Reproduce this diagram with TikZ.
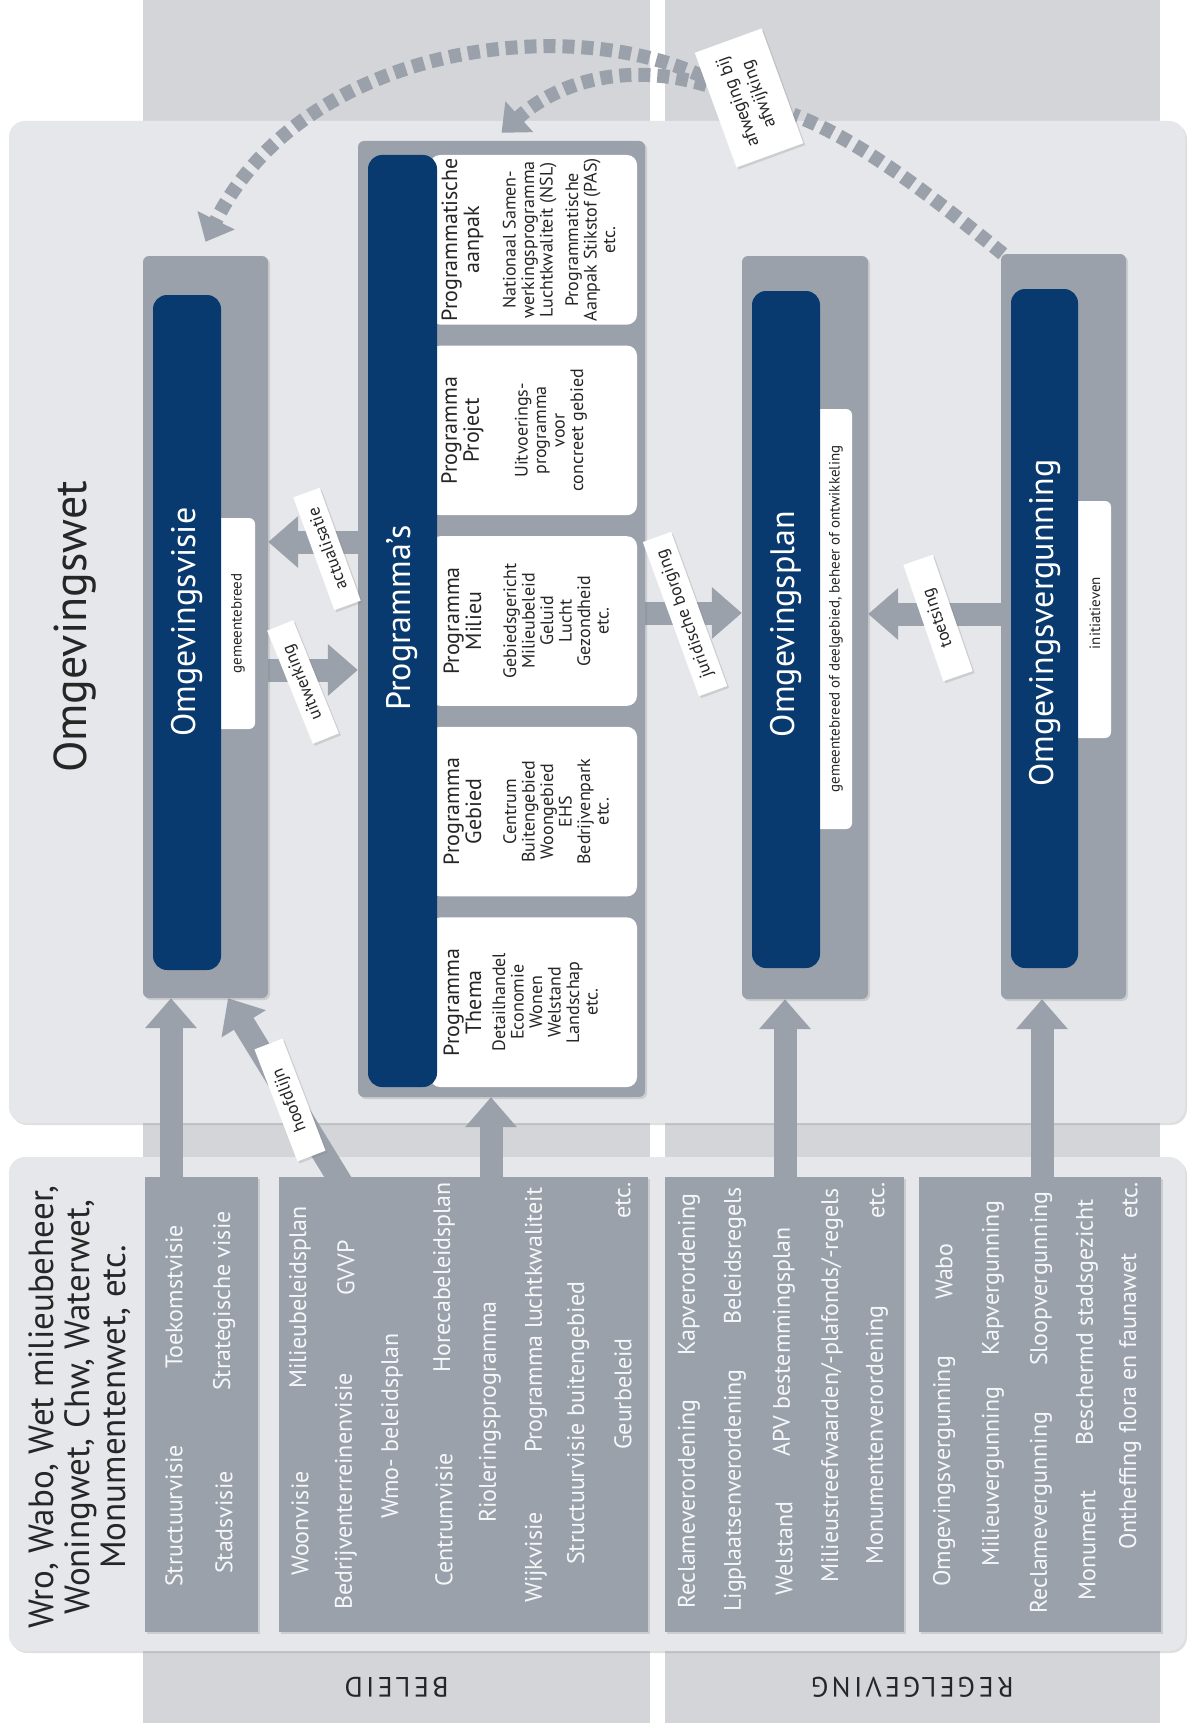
\documentclass[tikz,border=0pt]{standalone}
\usepackage{fontspec}
\setmainfont{PT Sans}
\usetikzlibrary{arrows.meta,shadows}

\definecolor{colbg}{HTML}{D3D5D9}
\definecolor{panelbg}{HTML}{E6E7EA}
\definecolor{boxgray}{HTML}{9AA1AB}
\definecolor{navy}{HTML}{083A70}
\definecolor{ink}{HTML}{262626}
\definecolor{listink}{HTML}{F6F7F9}

\pgfdeclarelayer{back}
\pgfdeclarelayer{mid}
\pgfsetlayers{back,mid,main}

\tikzset{
  softshadow/.style={drop shadow={opacity=0.25,shadow xshift=2pt,shadow yshift=-2pt}},
  outerbox/.style={fill=boxgray, rounded corners=6pt, inner sep=0pt, softshadow},
  navybar/.style={fill=navy, rounded corners=14pt, inner sep=0pt},
  infotag/.style={fill=white, rounded corners=6pt, inner sep=0pt},
  progbox/.style={fill=white, rounded corners=10pt, inner sep=0pt},
  listbox/.style={fill=boxgray, inner sep=0pt, softshadow},
  flow/.style={draw=boxgray, line width=23pt, -{Triangle[width=50pt,length=30pt]}},
  dashflow/.style={draw=boxgray, line width=14pt, dash pattern=on 12pt off 7pt},
  flowtag/.style={fill=white, inner sep=0pt, align=center, text=ink,
    font=\fontsize{17.5}{19}\selectfont, softshadow},
  bartitle/.style={rotate=90, text=white, font=\fontsize{34}{40}\selectfont},
  tagtext/.style={rotate=90, text=ink, inner sep=0pt, font=\fontsize{15}{17}\selectfont},
  listitem/.style={rotate=90, anchor=west, inner sep=0pt, text=listink,
    font=\fontsize{24}{26}\selectfont},
  progtitle/.style={rotate=90, align=center, text=ink, font=\fontsize{22}{22}\selectfont},
  progitem/.style={rotate=90, align=center, text=ink, font=\fontsize{18}{18.5}\selectfont},
  collabel/.style={rotate=180, text=ink, font=\fontsize{28}{30}\selectfont\addfontfeature{LetterSpace=12}}
}

\begin{document}
\begin{tikzpicture}[x=1pt, y=-1pt]
  \useasboundingbox (0,0) rectangle (1196,1723);
  % columns and panels
  \begin{pgfonlayer}{back}
    \fill[white] (0,0) rectangle (1196,1723);
    \fill[colbg] (143,0) rectangle (650,1723);
    \fill[colbg] (665,0) rectangle (1160,1723);
    \fill[panelbg, rounded corners=16pt, softshadow] (9,121) rectangle (1185,1123);
    \fill[panelbg, rounded corners=16pt, softshadow] (9,1157) rectangle (1185,1651);
  \end{pgfonlayer}

  \node[rotate=90, text=ink, font=\fontsize{46}{50}\selectfont] (wet) at (75,627) {Omgevingswet};
  \node[rotate=90, align=center, text=ink, font=\fontsize{35}{36}\selectfont] (wetten) at (80,1407)
    {Wro, Wabo, Wet milieubeheer,\\Woningwet, Chw, Waterwet,\\Monumentenwet, etc.};
  \node[collabel] (beleid) at (396.5,1687) {BELEID};
  \node[collabel] (regels) at (912.5,1687) {REGELGEVING};

  % Omgevingsvisie
  \node[outerbox, minimum width=125pt, minimum height=742pt] (visie) at (205.5,627) {};
  \node[infotag, minimum width=45pt, minimum height=211pt] (visietag) at (232.5,623.5) {};
  \node[navybar, minimum width=68pt, minimum height=675pt] (visiebar) at (187,632.5) {};
  \node[bartitle] (visietitle) at (187,622) {Omgevingsvisie};
  \node[tagtext] (visietagtext) at (238,623.5) {gemeentebreed};

  % Programma's
  \node[outerbox, minimum width=287pt, minimum height=956pt] (prog) at (501.5,619) {};
  \foreach \yc [count=\i] in {239.8,430.4,621,811.6,1002.2}
    \node[progbox, minimum width=207pt, minimum height=169.6pt] (p\i) at (533.5,\yc) {};
  \node[navybar, minimum width=69pt, minimum height=932pt] (progbar) at (402.5,621) {};
  \node[bartitle] (progtitle) at (402.5,618) {Programma’s};
  \node[progtitle] (p1t) at ([xshift=-71pt]p1.center) {Programmatische\\aanpak};
  \node[progitem] (p1i) at ([xshift=25.5pt]p1.center)
    {Nationaal Samen-\\werkingsprogramma\\Luchtkwaliteit (NSL)\\[7pt]Programmatische\\Aanpak Stikstof (PAS)\\etc.};
  \node[progtitle] (p2t) at ([xshift=-71pt]p2.center) {Programma\\Project};
  \node[progitem] (p2i) at ([xshift=17.5pt]p2.center) {Uitvoerings-\\programma\\voor\\concreet gebied};
  \node[progtitle] (p3t) at ([xshift=-71pt]p3.center) {Programma\\Milieu};
  \node[progitem] (p3i) at ([xshift=22.5pt]p3.center) {Gebiedsgericht\\Milieubeleid\\Geluid\\Lucht\\Gezondheid\\etc.};
  \node[progtitle] (p4t) at ([xshift=-71pt]p4.center) {Programma\\Gebied};
  \node[progitem] (p4i) at ([xshift=22.5pt]p4.center) {Centrum\\Buitengebied\\Woongebied\\EHS\\Bedrijvenpark\\etc.};
  \node[progtitle] (p5t) at ([xshift=-71pt]p5.center) {Programma\\Thema};
  \node[progitem] (p5i) at ([xshift=11.5pt]p5.center) {Detailhandel\\Economie\\Wonen\\Welstand\\Landschap\\etc.};

  % Omgevingsplan
  \node[outerbox, minimum width=126pt, minimum height=743pt] (plan) at (805,627.5) {};
  \node[infotag, minimum width=42pt, minimum height=420pt] (plantag) at (831,619) {};
  \node[navybar, minimum width=68pt, minimum height=677pt] (planbar) at (786,629.5) {};
  \node[bartitle] (plantitle) at (786,624) {Omgevingsplan};
  \node[tagtext] (plantagtext) at (836,619) {gemeentebreed of deelgebied, beheer of ontwikkeling};

  % Omgevingsvergunning
  \node[outerbox, minimum width=125pt, minimum height=745pt] (verg) at (1063.5,626.5) {};
  \node[infotag, minimum width=43pt, minimum height=237pt] (vergtag) at (1089.5,619.5) {};
  \node[navybar, minimum width=67pt, minimum height=679pt] (vergbar) at (1044.5,628.5) {};
  \node[bartitle] (vergtitle) at (1044.5,623) {Omgevingsvergunning};
  \node[tagtext] (vergtagtext) at (1095,613) {initiatieven};

  % lists
  \node[listbox, minimum width=113pt, minimum height=455pt] (bA) at (201.5,1404.5) {};
  \node[listbox, minimum width=369pt, minimum height=455pt] (bB) at (463.5,1404.5) {};
  \node[listbox, minimum width=239pt, minimum height=455pt] (bC) at (784.5,1404.5) {};
  \node[listbox, minimum width=242pt, minimum height=455pt] (bD) at (1040,1404.5) {};
  \foreach \x/\y/\t [count=\i] in {
      174/1587/Structuurvisie, 174/1369/Toekomstvisie,
      224/1574/Stadsvisie, 224/1391/Strategische visie,
      300/1576/Woonvisie, 300/1389/Milieubeleidsplan,
      346/1610/Bedrijventerreinenvisie, 346/1296/GVVP,
      392/1519/Wmo- beleidsplan,
      444/1587/Centrumvisie, 444/1373/Horecabeleidsplan,
      490/1523/Rioleringsprogramma,
      536/1603/Wijkvisie, 536/1453/Programma luchtkwaliteit,
      578/1565/Structuurvisie buitengebied,
      623/1450/Geurbeleid, 623/1219/etc.,
      689/1609/Reclameverordening, 689/1356/Kapverordening,
      735/1612/Ligplaatsenverordening, 735/1325/Beleidsregels,
      784/1596/Welstand, 784/1457/APV bestemmingsplan,
      877/1565/Monumentenverordening, 877/1219/etc.,
      944/1587/Omgevingsvergunning, 944/1300/Wabo,
      993/1567/Milieuvergunning, 993/1356/Kapvergunning,
      1041/1614/Reclamevergunning, 1041/1366/Sloopvergunning,
      1087/1601/Monument, 1087/1446/Beschermd stadsgezicht,
      1130/1550/Ontheffing flora en faunawet, 1130/1219/etc.}
    \node[listitem] (item\i) at (\x,\y) {\t};
  \node[listitem] (itemstreef) at (832,1583) {Milieustreefwaarden/-plafonds/-regels};

  % labels on the connectors
  \node[flowtag, rotate=112, minimum width=122pt, minimum height=28pt] (uitw) at (303,682) {uitwerking};
  \node[flowtag, rotate=110, minimum width=120pt, minimum height=28pt] (actu) at (327,549) {actualisatie};
  \node[flowtag, rotate=110, minimum width=164pt, minimum height=30pt] (borg) at (685,614) {juridische borging};
  \node[flowtag, rotate=109, minimum width=123pt, minimum height=31pt] (toets) at (938,618) {toetsing};
  \node[flowtag, rotate=111, minimum width=120pt, minimum height=30pt] (hoofd) at (290,1100) {hoofdlijn};
  \node[flowtag, rotate=110, minimum width=122pt, minimum height=71pt,
    font=\fontsize{18}{22}\selectfont] (afweg) at (749,98) {afweging bij\\afwijking};

  % connectors
  \begin{pgfonlayer}{mid}
    \draw[flow] ([xshift=-30.5pt]bA.north) -- ([xshift=-34.5pt]visie.south);
    \draw[flow] ([xshift=-118.5pt,yshift=-12pt]bB.north) -- ([xshift=22.5pt]visie.south);
    \draw[flow] ([xshift=27.5pt]bB.north) -- ([xshift=-10.5pt]prog.south);
    \draw[flow] ([xshift=0.5pt]bC.north) -- ([xshift=-20pt]plan.south);
    \draw[flow] ([xshift=2pt]bD.north) -- ([xshift=-21.5pt]verg.south);
    \draw[flow] ([yshift=-43pt]visie.east) -- ([yshift=-51pt]prog.west);
    \draw[flow] ([yshift=77pt]prog.west) -- ([yshift=85pt]visie.east);
    \draw[flow] ([yshift=6pt]prog.east) -- ([yshift=14.5pt]plan.west);
    \draw[flow] ([yshift=12.5pt]verg.west) -- ([yshift=13.5pt]plan.east);
    \draw[dashflow] ([xshift=2pt]verg.north west) .. controls (930,195) and (860,140) .. (afweg);
    \draw[dashflow, -{Triangle[width=40pt,length=24pt]}]
      (afweg) .. controls (560,10) and (300,50) .. ([yshift=14pt]visie.north);
    \draw[dashflow, -{Triangle[width=40pt,length=24pt]}]
      (afweg) .. controls (630,62) and (560,80) .. ([yshift=8pt]prog.north);
  \end{pgfonlayer}
\end{tikzpicture}
\end{document}
